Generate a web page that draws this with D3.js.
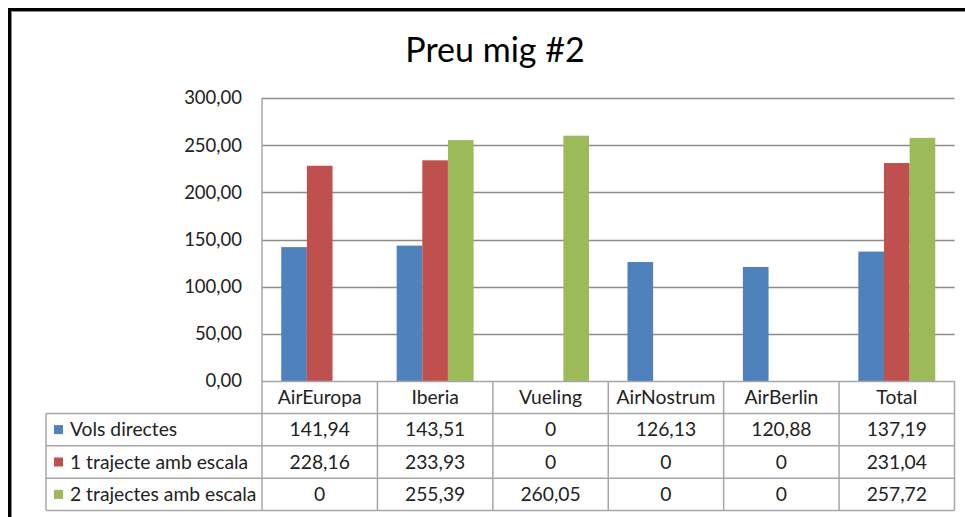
<!DOCTYPE html>
<html><head><meta charset="utf-8">
<script src="https://cdn.jsdelivr.net/npm/d3@7"></script>
<style>html,body{margin:0;padding:0;background:#fff;overflow:hidden}</style>
</head><body>
<script>
const categories = ["AirEuropa","Iberia","Vueling","AirNostrum","AirBerlin","Total"];
const seriesNames = ["Vols directes","1 trajecte amb escala","2 trajectes amb escala"];
const volsDirectes = [141.94,143.51,0,126.13,120.88,137.19];
const unTrajecte = [228.16,233.93,0,0,0,231.04];
const dosTrajectes = [0,255.39,260.05,0,0,257.72];
const yTicks = [0,50,100,150,200,250,300];
const colors = ["#4F81BD","#C0504D","#9BBB59"];
const title = "Preu mig #2";

const W=965,H=517;
const font="Lato, 'Open Sans', sans-serif";
const svg=d3.select("body").append("svg").attr("width",W).attr("height",H);
svg.append("rect").attr("width",W).attr("height",H).attr("fill","#fff");

// outer frame
svg.append("rect").attr("x",9.5).attr("y",9.5).attr("width",W+20).attr("height",H+20)
  .attr("fill","none").attr("stroke","#000").attr("stroke-width",3);
svg.append("rect").attr("x",11.5).attr("y",11.5).attr("width",W+20).attr("height",H+20)
  .attr("fill","none").attr("stroke","#8a8a8a").attr("stroke-width",1);

const plotL=262, plotR=954.5, plotT=98, plotB=381;
const series=[volsDirectes,unTrajecte,dosTrajectes];

const x=d3.scaleBand().domain(categories).range([plotL,plotR]).paddingInner(0).paddingOuter(0);
const x1=d3.scaleBand().domain([0,1,2]).range([0,x.bandwidth()]).paddingInner(0).paddingOuter(0.75);
const y=d3.scaleLinear().domain([0,300]).range([plotB,plotT]);

// gridlines
svg.append("g").selectAll("line").data(yTicks.filter(d=>d>0)).join("line")
  .attr("x1",plotL).attr("x2",plotR).attr("y1",d=>Math.round(y(d))+0.5).attr("y2",d=>Math.round(y(d))+0.5)
  .attr("stroke","#8c8c8c").attr("stroke-width",1.5);

// y axis labels
const fmt=v=>d3.format(".2f")(v).replace(".",",");
svg.append("g").selectAll("text").data(yTicks).join("text")
  .attr("x",242).attr("y",d=>y(d)).attr("dy","0.35em").attr("text-anchor","end")
  .attr("font-family",font).attr("font-size",18.5).attr("fill","#222").text(fmt);

// bars
series.forEach((s,i)=>{
  svg.append("g").selectAll("rect").data(s.map((v,j)=>({v,c:categories[j]}))).join("rect")
    .attr("x",d=>x(d.c)+x1(i)).attr("width",x1.bandwidth())
    .attr("y",d=>y(d.v)).attr("height",d=>plotB-y(d.v))
    .attr("fill",colors[i]);
});

// table
const rowH=32.4;
const tblL=46, tblR=plotR;
const gridC="#a6a6a6";
const tg=svg.append("g");
const fs=19.3;
tg.append("line").attr("x1",plotL).attr("x2",tblR).attr("y1",plotB+0.5).attr("y2",plotB+0.5).attr("stroke",gridC).attr("stroke-width",1.5);
for(let r=1;r<=4;r++){
  const yy=plotB+r*rowH;
  tg.append("line").attr("x1",tblL).attr("x2",tblR).attr("y1",yy).attr("y2",yy).attr("stroke",gridC).attr("stroke-width",1.5);
}
tg.append("line").attr("x1",tblL).attr("x2",tblL).attr("y1",plotB+rowH).attr("y2",plotB+4*rowH).attr("stroke",gridC).attr("stroke-width",1.5);
tg.append("line").attr("x1",plotL).attr("x2",plotL).attr("y1",plotT).attr("y2",plotB+4*rowH).attr("stroke",gridC).attr("stroke-width",1.5);
categories.forEach(c=>{
  const xx=x(c)+x.bandwidth();
  tg.append("line").attr("x1",xx).attr("x2",xx).attr("y1",plotB).attr("y2",plotB+4*rowH).attr("stroke",gridC).attr("stroke-width",1.5);
});
tg.selectAll("text.h").data(categories).join("text").attr("class","h")
  .attr("x",d=>x(d)+x.bandwidth()/2).attr("y",plotB+rowH/2).attr("dy","0.35em")
  .attr("text-anchor","middle").attr("font-family",font).attr("font-size",fs).attr("fill","#222").text(d=>d);
const vfmt=v=>v===0?"0":d3.format(".2f")(v).replace(".",",");
series.forEach((s,i)=>{
  const cy=plotB+(i+1.5)*rowH;
  tg.append("rect").attr("x",54).attr("y",cy-4.5).attr("width",9).attr("height",9).attr("fill",colors[i]);
  tg.append("text").attr("x",70).attr("y",cy).attr("dy","0.35em").attr("font-family",font).attr("font-size",fs).attr("fill","#222").text(seriesNames[i]);
  tg.selectAll("text.v"+i).data(s).join("text").attr("class","v"+i)
    .attr("x",(d,j)=>x(categories[j])+x.bandwidth()/2).attr("y",cy).attr("dy","0.35em")
    .attr("text-anchor","middle").attr("font-family",font).attr("font-size",fs).attr("fill","#222").text(vfmt);
});

svg.append("text").attr("x",495).attr("y",62).attr("text-anchor","middle")
  .attr("font-family",font).attr("font-size",34).attr("fill","#000").text(title);
</script>
</body></html>
